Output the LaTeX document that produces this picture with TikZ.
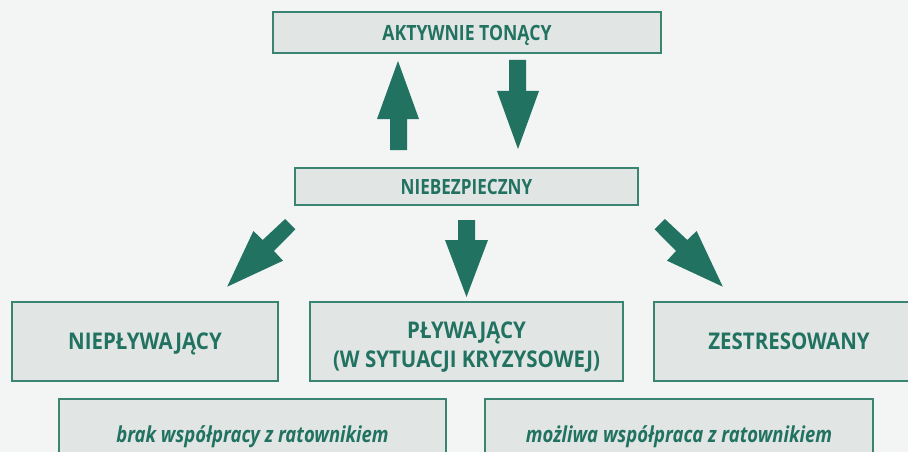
\documentclass[tikz,border=0pt]{standalone}
\usepackage{fontspec}
\newfontfamily\cf[FakeStretch=0.84]{Open Sans}
\newfontfamily\cfm[FakeStretch=0.815]{Open Sans}
\newfontfamily\cfn[FakeStretch=0.89]{Open Sans}
\definecolor{bg}{HTML}{F3F4F4}
\definecolor{boxfill}{HTML}{E1E5E3}
\definecolor{boxline}{HTML}{3A8572}
\definecolor{dgreen}{HTML}{217261}
\tikzset{
  box/.style={draw=boxline, line width=1.2pt, fill=boxfill, text=dgreen, align=center, inner sep=0pt, font=\cf\bfseries},
  boxtext/.style={text=dgreen, align=center, inner sep=0pt, text depth=0pt},
  blockarrow/.style={fill=dgreen, draw=none},
}
\begin{document}
\begin{tikzpicture}[x=1pt,y=-1pt]
\useasboundingbox (0,0) rectangle (908,452);
\fill[bg] (0,0) rectangle (908,452);
% boxes
\node[box, text depth=0pt, minimum width=388pt, minimum height=41pt, font=\cf\bfseries\fontsize{21}{25}\selectfont] (top) at (467,32.5) {AKTYWNIE TONĄCY};
\node[box, minimum width=343pt, minimum height=37pt, font=\cfm\bfseries\fontsize{21}{25}\selectfont] (mid) at (466.5,186.5) {NIEBEZPIECZNY};
\node[box, text depth=0pt, minimum width=266pt, minimum height=79pt, font=\cfn\bfseries\fontsize{23}{29}\selectfont] (nonswim) at (145,341.5) {NIEPŁYWAJĄCY};
\node[box, minimum width=313pt, minimum height=79pt] (swim) at (466.5,341.5) {};
\node[boxtext, font=\cfn\bfseries\fontsize{23}{29}\selectfont] (swimtext) at (466.5,344.5) {PŁYWAJĄCY\\(W SYTUACJI KRYZYSOWEJ)};
\node[box, minimum width=270pt, minimum height=79pt, font=\cfn\bfseries\fontsize{23}{29}\selectfont] (stress) at (789,341.5) {ZESTRESOWANY};
\node[box, minimum width=387pt, minimum height=80pt, font=\cf\bfseries\itshape\fontsize{22}{26}\selectfont] (nocoop) at (252.5,439) {\raisebox{10pt}{brak współpracy z ratownikiem}};
\node[box, minimum width=388pt, minimum height=80pt, font=\cf\bfseries\itshape\fontsize{22}{26}\selectfont] (coop) at (679,439) {\raisebox{10pt}{możliwa współpraca z ratownikiem}};
% arrows between top and mid
\fill[blockarrow] (390,150) -- (407,150) -- (407,119) -- (419,119) -- (398,61) -- (377,119) -- (390,119) -- cycle;
\fill[blockarrow] (509,60) -- (526,60) -- (526,91) -- (539,91) -- (518,149) -- (497,91) -- (509,91) -- cycle;
% arrows from mid to bottom
\fill[blockarrow] (285.1,219) -- (295.4,229.3) -- (274.0,251) -- (283.0,260.7) -- (227.2,286.7) -- (253.4,231) -- (262.7,240) -- cycle;
\fill[blockarrow] (458,220) -- (475,220) -- (475,240) -- (488,240) -- (466.5,297) -- (445,240) -- (458,240) -- cycle;
\fill[blockarrow] (664.9,219) -- (654.6,229.3) -- (676,251) -- (667,260.7) -- (722.8,286.7) -- (696.6,231) -- (687.3,240) -- cycle;
\end{tikzpicture}
\end{document}
